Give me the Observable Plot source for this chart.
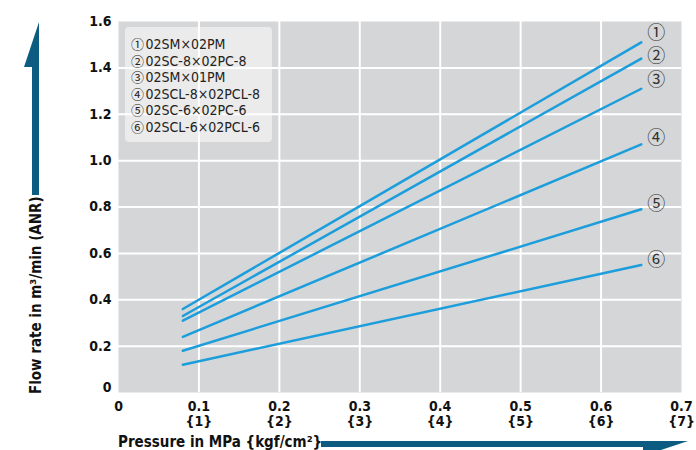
<!DOCTYPE html>
<html><head><meta charset="utf-8">
<script src="https://cdn.jsdelivr.net/npm/d3@7"></script>
<script src="https://cdn.jsdelivr.net/npm/@observablehq/plot@0.6"></script>
<style>
body{margin:0;background:#fff;}
#chart svg{display:block;}
</style></head><body><div id="chart"></div>
<script>
const models = ["02SM×02PM","02SC-8×02PC-8","02SM×01PM","02SCL-8×02PCL-8","02SC-6×02PC-6","02SCL-6×02PCL-6"];
const markers = ["①","②","③","④","⑤","⑥"];
const pressureStart = 0.08;
const pressureEnd = 0.65;
const flowStart = [0.36,0.33,0.31,0.24,0.18,0.12];
const flowEnd = [1.51,1.44,1.31,1.07,0.79,0.55];
const labelFlow = [1.55,1.45,1.345,1.095,0.81,0.57];
const xTicks = [0,0.1,0.2,0.3,0.4,0.5,0.6,0.7];
const xTickMain = ["0","0.1","0.2","0.3","0.4","0.5","0.6","0.7"];
const xTickSub = ["","{1}","{2}","{3}","{4}","{5}","{6}","{7}"];
const yTicks = [0,0.2,0.4,0.6,0.8,1.0,1.2,1.4,1.6];
const yTickLabels = ["0","0.2","0.4","0.6","0.8","1.0","1.2","1.4","1.6"];
const xTitle = "Pressure in MPa {kgf/cm²}";
const yTitle = "Flow rate in m³/min (ANR)";

const FONT = "'Liberation Sans Narrow','DejaVu Sans Condensed','Roboto Condensed',sans-serif";
const CIRC = "'Noto Sans CJK JP','DejaVu Sans',sans-serif";
const LINE = "#1c9ddc";
const ARROW = "#0b5c80";

const lines = [];
models.forEach((m, i) => {
  lines.push({model: m, p: pressureStart, q: flowStart[i]});
  lines.push({model: m, p: pressureEnd, q: flowEnd[i]});
});
const endLabels = markers.map((k, i) => ({k, p: pressureEnd, q: labelFlow[i]}));

const plot = Plot.plot({
  width: 696, height: 450,
  marginLeft: 118, marginRight: 15, marginTop: 21, marginBottom: 58,
  style: {fontFamily: FONT, fontSize: "14px", color: "#111", background: "#fff"},
  x: {domain: [0, 0.7]},
  y: {domain: [0, 1.6]},
  marks: [
    Plot.frame({fill: "#d4d6d7", stroke: null}),
    Plot.gridX(xTicks.slice(1, -1), {stroke: "#fff", strokeOpacity: 1, strokeWidth: 2}),
    Plot.gridY(yTicks.slice(1, -1), {stroke: "#fff", strokeOpacity: 1, strokeWidth: 2}),
    Plot.line(lines, {x: "p", y: "q", z: "model", stroke: LINE, strokeWidth: 2.5}),
    Plot.text(endLabels, {x: "p", y: "q", text: "k", dx: 15, fontSize: 18, fill: "#333",
      fontFamily: CIRC}),
    Plot.axisY(yTicks.slice(1), {tickSize: 0, tickPadding: 7, fontWeight: "bold", label: null,
      tickFormat: d => yTickLabels[yTicks.indexOf(d)]}),
    Plot.axisY([0], {tickSize: 0, tickPadding: 7, fontWeight: "bold", label: null, dy: -5,
      tickFormat: () => yTickLabels[0]}),
    Plot.axisX(xTicks, {tickSize: 0, tickPadding: 8, fontWeight: "bold", label: null, lineHeight: 1.08,
      tickFormat: d => { const i = xTicks.indexOf(d); return xTickSub[i] ? xTickMain[i] + "\n" + xTickSub[i] : xTickMain[i]; }})
  ]
});

const svg = d3.select(plot);
// legend box under the grid
const frameEl = plot.querySelector('[aria-label="frame"]');
const box = document.createElementNS("http://www.w3.org/2000/svg", "rect");
frameEl.after(box);
d3.select(box).attr("x", 125).attr("y", 27).attr("width", 147).attr("height", 115)
  .attr("rx", 4).attr("fill", "#ebebeb");
const lg = svg.append("g").attr("font-family", FONT).attr("font-size", 14).attr("fill", "#222")
  .attr("text-anchor", "start");
models.forEach((m, i) => {
  const t = lg.append("text").attr("x", 131).attr("y", 44 + i * 16.6).attr("dy", "0.35em");
  t.append("tspan").attr("font-family", CIRC).attr("font-size", 13).text(markers[i]);
  t.append("tspan").attr("dx", 1.5).text(m);
});

// y title + arrow
svg.append("text").attr("transform", "translate(41,394) rotate(-90)")
  .attr("text-anchor", "start")
  .attr("font-family", FONT).attr("font-weight", "bold").attr("font-size", 15).attr("fill", "#111")
  .text(yTitle);
svg.append("polygon").attr("fill", ARROW)
  .attr("points", "32,195 32,67 24,67 39,22 39,195");
// x title + arrow
svg.append("text").attr("x", 118).attr("y", 447)
  .attr("text-anchor", "start")
  .attr("font-family", FONT).attr("font-weight", "bold").attr("font-size", 15).attr("fill", "#111")
  .text(xTitle);
svg.append("polygon").attr("fill", ARROW)
  .attr("points", "321,441 688,441 643,456 643,447 321,447");

document.getElementById("chart").appendChild(plot);
</script>
</body></html>
